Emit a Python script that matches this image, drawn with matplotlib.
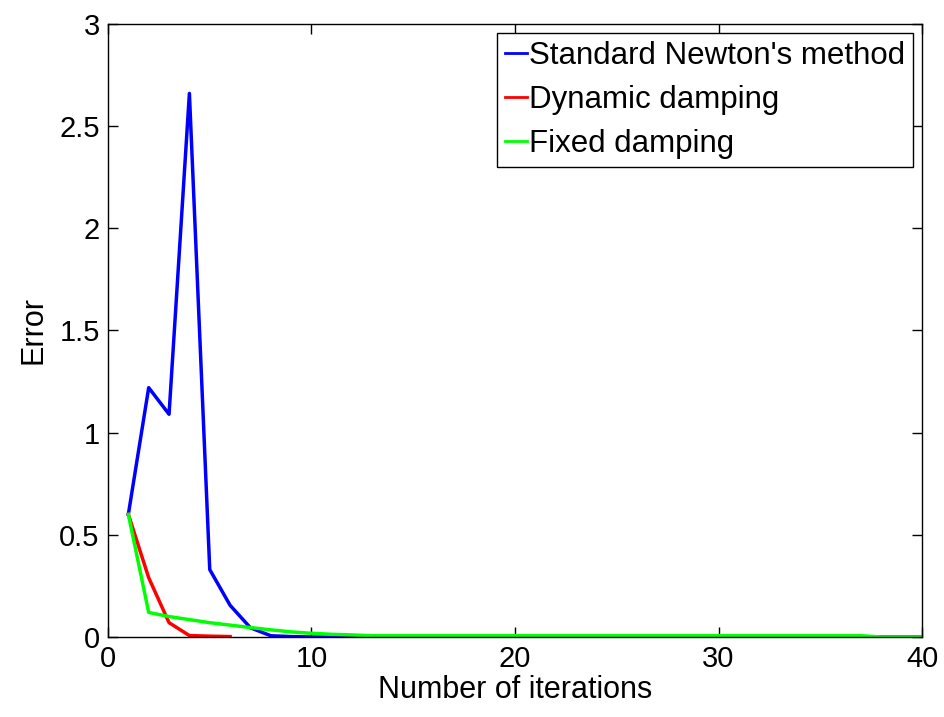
import matplotlib.pyplot as plt

plt.rcParams['font.family'] = ['Liberation Sans', 'DejaVu Sans']

# iteration error values
newton_iter = list(range(1, 41))
newton_err = [0.60, 1.22, 1.09, 2.66, 0.33, 0.155, 0.045, 0.006, 0.002, 0.0] + [0.0] * 30

dynamic_iter = [1, 2, 3, 4, 5, 6]
dynamic_err = [0.60, 0.29, 0.07, 0.007, 0.004, 0.002]

fixed_iter = list(range(1, 41))
fixed_err = ([0.60, 0.12, 0.10, 0.085, 0.07, 0.058, 0.046, 0.035, 0.025, 0.018,
              0.013, 0.010] + [0.006] * 25 + [0.0] * 3)

labels = ["Standard Newton's method", "Dynamic damping", "Fixed damping"]

fig = plt.figure(figsize=(9.44, 7.17), dpi=100)
ax = fig.add_axes([0.1144, 0.1116, 0.8623, 0.855])

ax.plot(newton_iter, newton_err, color=(0, 0, 1), lw=2.5, label=labels[0])
ax.plot(dynamic_iter, dynamic_err, color=(1, 0, 0), lw=2.5, label=labels[1])
ax.plot(fixed_iter, fixed_err, color=(0, 1, 0), lw=2.5, label=labels[2])

ax.set_xlim(0, 40)
ax.set_ylim(0, 3)
ax.set_xticks([0, 10, 20, 30, 40])
ax.set_yticks([0, 0.5, 1, 1.5, 2, 2.5, 3])
ax.set_yticklabels(['0', '0.5', '1', '1.5', '2', '2.5', '3'])
ax.tick_params(direction='in', length=7, width=1, labelsize=21,
               top=True, right=True, pad=6)
for s in ax.spines.values():
    s.set_linewidth(1)

ax.set_xlabel("Number of iterations", fontsize=22, labelpad=1)
ax.set_ylabel("Error", fontsize=22, labelpad=8)

leg = ax.legend(loc='upper right', fontsize=22.5, handlelength=0.7,
                handletextpad=0.05, labelspacing=0.45, borderpad=0.25,
                borderaxespad=0.3, fancybox=False, framealpha=1)
leg.get_frame().set_edgecolor('black')
leg.get_frame().set_linewidth(1)
for h in leg.get_lines():
    h.set_linewidth(2)

plt.savefig("out.png", dpi=100)
plt.close()
